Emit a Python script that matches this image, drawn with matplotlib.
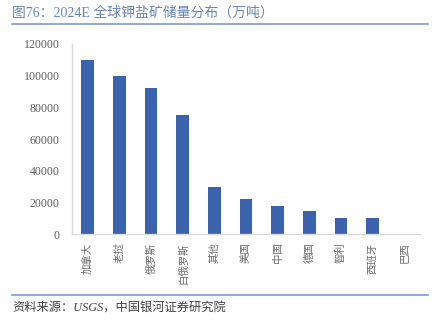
import matplotlib
matplotlib.use("Agg")
import matplotlib.pyplot as plt
from matplotlib.lines import Line2D

plt.rcParams['font.family'] = ['Noto Sans CJK SC', 'DejaVu Sans']

countries = ['加拿大', '老挝', '俄罗斯', '白俄罗斯', '其他', '美国', '中国', '德国', '智利', '西班牙', '巴西']
reserves = [110000, 100000, 92000, 75000, 30000, 22000, 18000, 15000, 10000, 10000, 300]
yticks = [0, 20000, 40000, 60000, 80000, 100000, 120000]

title = '图76：2024E 全球钾盐矿储量分布（万吨）'
source = '资料来源：USGS，中国银河证券研究院'

bar_color = '#3A62AD'
rule_color = '#7F9BD0'
tick_color = '#6B6B6B'
spine_color = '#D9D9D9'

fig = plt.figure(figsize=(4.41, 3.24), dpi=100)
ax = fig.add_axes([72 / 441, 1 - 234.3 / 324, (420 - 72) / 441, (234.3 - 44) / 324])

x = list(range(len(countries)))
ax.bar(x, reserves, width=0.4, color=bar_color, zorder=2)

ax.set_xlim(-0.5, len(countries) - 0.5)
ax.set_ylim(0, 120000)
ax.set_yticks(yticks)
ax.set_yticklabels([str(v) for v in yticks], family=['Liberation Serif', 'DejaVu Sans'],
                   fontsize=8.6, color='#5F5F5F')
ax.set_xticks(x)
ax.set_xticklabels(countries, rotation=90, fontsize=7.5, color=tick_color,
                   weight='light', va='top', ha='center')
ax.tick_params(axis='y', length=0, pad=9)
ax.tick_params(axis='x', length=0, pad=6)

for side in ('top', 'right'):
    ax.spines[side].set_visible(False)
for side in ('left', 'bottom'):
    ax.spines[side].set_color(spine_color)
    ax.spines[side].set_linewidth(1.0)

# heading and rules
fig.text(12 / 441, 1 - 13 / 324, title, family=['Liberation Serif', 'Noto Sans CJK SC'],
         fontsize=10, color='#6A85BF', weight='light', ha='left', va='center')
fig.add_artist(Line2D([12 / 441, 428 / 441], [1 - 24 / 324, 1 - 24 / 324],
                      color=rule_color, linewidth=1.2))
fig.add_artist(Line2D([12 / 441, 428 / 441], [1 - 295 / 324, 1 - 295 / 324],
                      color=rule_color, linewidth=1.2))
fig.text(12 / 441, 1 - 309 / 324, source, family=['Liberation Serif', 'Noto Sans CJK SC'],
         style='italic', fontsize=8.8, color='#404040', weight='light', ha='left', va='center')

fig.savefig('out.png', dpi=100)
